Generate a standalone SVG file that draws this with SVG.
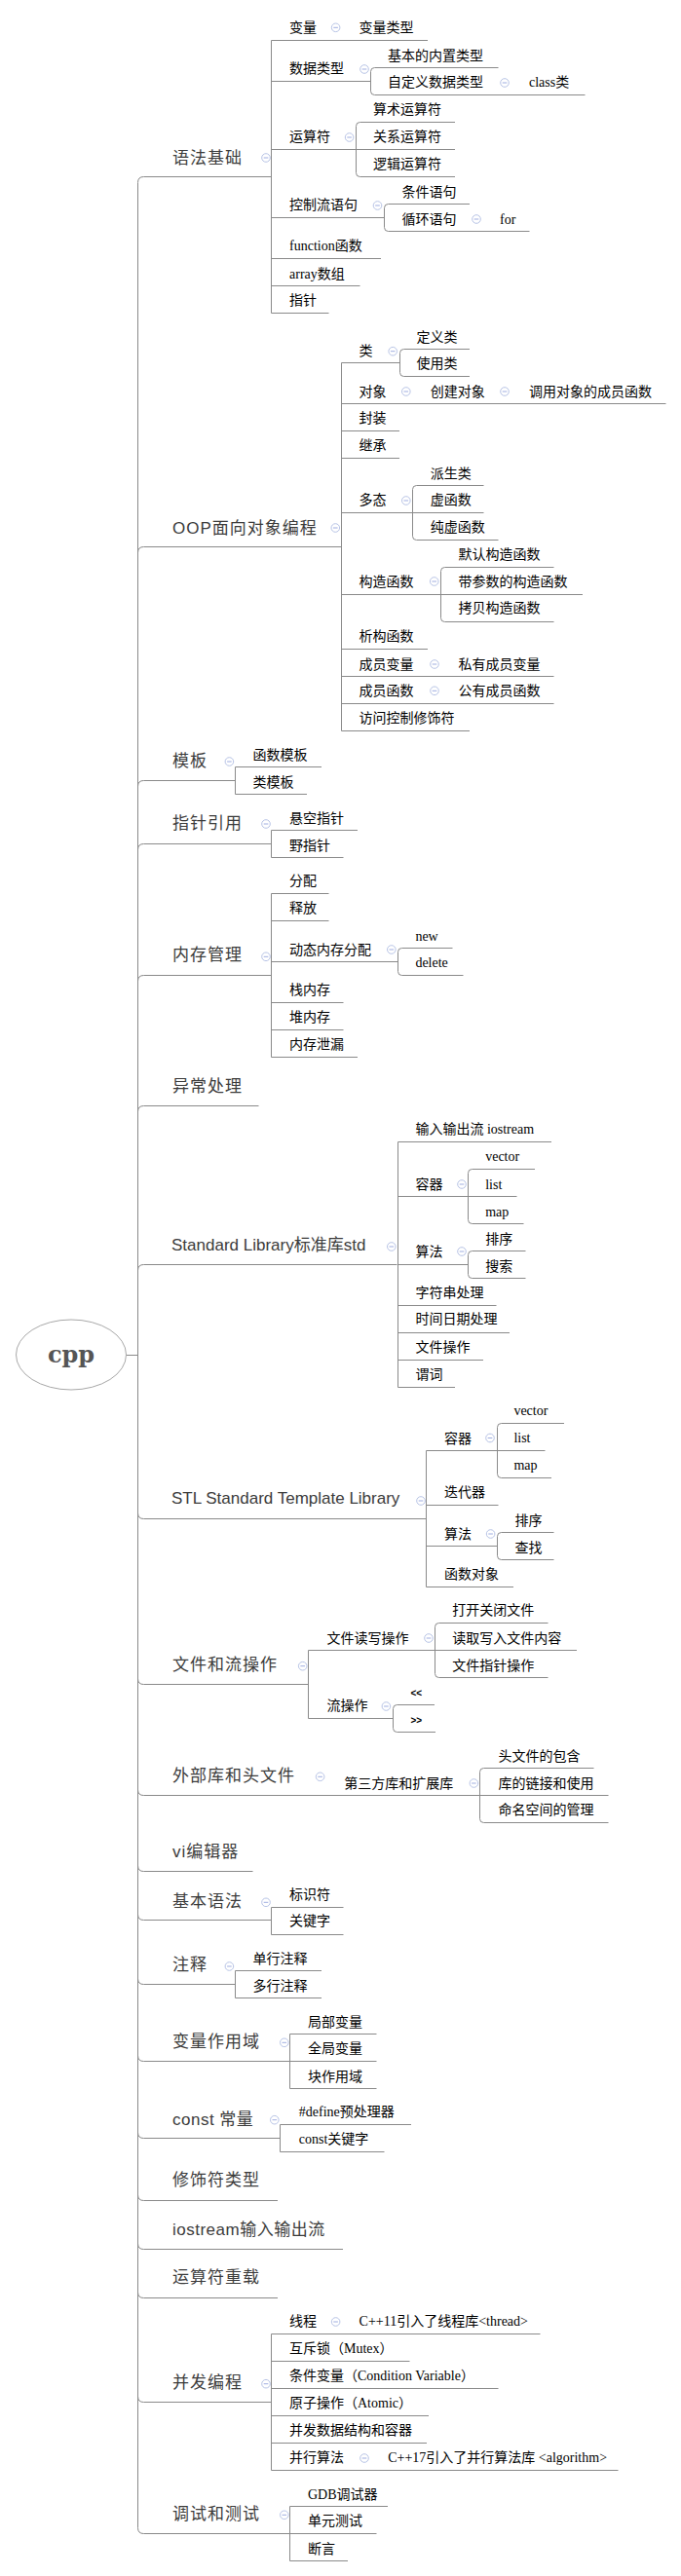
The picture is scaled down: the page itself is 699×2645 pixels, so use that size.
<svg xmlns="http://www.w3.org/2000/svg" xmlns:xlink="http://www.w3.org/1999/xlink" width="699" height="2645" viewBox="0 0 699 2645">
<style>
.t1{font-family:"Liberation Sans","Noto Sans CJK SC",sans-serif;font-size:17px;fill:#3b3b3b;letter-spacing:1px}
.lat0{letter-spacing:0}
.lat5{letter-spacing:0.5px}
.t2{font-family:"Liberation Serif","Noto Sans CJK SC",serif;font-size:14px;fill:#000}
.ts{font-family:"Liberation Sans",sans-serif;font-size:10px;font-weight:bold;fill:#000}
.root{font-family:"DejaVu Serif",serif;font-size:24px;font-weight:bold;fill:#555}
#connectors path{fill:none;stroke:#8a8a8a;stroke-width:1}
</style>
<defs>
<g id="tg"><circle r="4.3" fill="#fff" stroke="#b8c4e6" stroke-width="1"/><path d="M-2.3 0H2.3" stroke="#9fade0" stroke-width="1"/></g>
</defs>
<rect width="699" height="2645" fill="#fff"/>
<g id="connectors">
<path d="M129.5 1391.5H141.5"/>
<path d="M141.5 187.5V2595.5"/>
<path d="M141.5 187.5Q141.5 181.5 147.5 181.5H278.5"/>
<path d="M141.5 567.5Q141.5 561.5 147.5 561.5H350.5"/>
<path d="M141.5 807.5Q141.5 801.5 147.5 801.5H241.5"/>
<path d="M141.5 872.5Q141.5 866.5 147.5 866.5H278.5"/>
<path d="M141.5 1007.5Q141.5 1001.5 147.5 1001.5H278.5"/>
<path d="M141.5 1141.5Q141.5 1135.5 147.5 1135.5H265.5"/>
<path d="M141.5 1304.5Q141.5 1298.5 147.5 1298.5H407.5"/>
<path d="M141.5 1553.5Q141.5 1559.5 147.5 1559.5H437.5"/>
<path d="M141.5 1723.5Q141.5 1729.5 147.5 1729.5H316.5"/>
<path d="M141.5 1837.5Q141.5 1843.5 147.5 1843.5H624.5"/>
<path d="M141.5 1915.5Q141.5 1921.5 147.5 1921.5H259.5"/>
<path d="M141.5 1965.5Q141.5 1971.5 147.5 1971.5H278.5"/>
<path d="M141.5 2031.5Q141.5 2037.5 147.5 2037.5H241.5"/>
<path d="M141.5 2110.5Q141.5 2116.5 147.5 2116.5H297.5"/>
<path d="M141.5 2189.5Q141.5 2195.5 147.5 2195.5H287.5"/>
<path d="M141.5 2253.5Q141.5 2259.5 147.5 2259.5H285"/>
<path d="M141.5 2303.5Q141.5 2309.5 147.5 2309.5H352"/>
<path d="M141.5 2353.5Q141.5 2359.5 147.5 2359.5H285"/>
<path d="M141.5 2460.5Q141.5 2466.5 147.5 2466.5H278.5"/>
<path d="M141.5 2595.5Q141.5 2601.5 147.5 2601.5H297.5"/>
<!-- 语法基础 -->
<path d="M278.5 41.5V321.5M278.5 41.5H439M278.5 83.5H380.5M278.5 153.5H467M278.5 223.5H394.5M278.5 265.5H391M278.5 293.5H369.5M278.5 321.5H337.5"/>
<path d="M511.5 69.5H384.5Q380.5 69.5 380.5 73.5V93.5Q380.5 97.5 384.5 97.5H600.5"/>
<path d="M467 125.5H369.5Q365.5 125.5 365.5 129.5V177.5Q365.5 181.5 369.5 181.5H467"/>
<path d="M482 209.5H398.5Q394.5 209.5 394.5 213.5V233.5Q394.5 237.5 398.5 237.5H543.5"/>
<!-- OOP -->
<path d="M350.5 372.5V750.5M350.5 372.5H410.5M350.5 414.5H683.5M350.5 442.5H410M350.5 470.5H410M350.5 526.5H496.5M350.5 610.5H598M350.5 666.5H439M350.5 694.5H568.5M350.5 722.5H568.5M350.5 750.5H482"/>
<path d="M482 358.5H414.5Q410.5 358.5 410.5 362.5V382.5Q410.5 386.5 414.5 386.5H482"/>
<path d="M496.5 498.5H427.5Q423.5 498.5 423.5 502.5V550.5Q423.5 554.5 427.5 554.5H511.5"/>
<path d="M568.5 582.5H456.5Q452.5 582.5 452.5 586.5V634.5Q452.5 638.5 456.5 638.5H568.5"/>
<!-- 模板 / 指针引用 -->
<path d="M241.5 787.5V815.5M241.5 787.5H330M241.5 815.5H315"/>
<path d="M278.5 852.5V880.5M278.5 852.5H367M278.5 880.5H352.5"/>
<!-- 内存管理 -->
<path d="M278.5 917.5V1085.5M278.5 917.5H337.5M278.5 945.5H337.5M278.5 987.5H408.5M278.5 1029.5H352.5M278.5 1057.5H352.5M278.5 1085.5H367"/>
<path d="M464.5 973.5H412.5Q408.5 973.5 408.5 977.5V997.5Q408.5 1001.5 412.5 1001.5H475.5"/>
<!-- std -->
<path d="M408.5 1172.5V1424.5M408.5 1172.5H566M408.5 1228.5H530.5M408.5 1298.5H480.5M408.5 1340.5H509.5M408.5 1368.5H523M408.5 1396.5H496M408.5 1424.5H467"/>
<path d="M549 1200.5H484.5Q480.5 1200.5 480.5 1204.5V1252.5Q480.5 1256.5 484.5 1256.5H537.5"/>
<path d="M539.5 1284.5H484.5Q480.5 1284.5 480.5 1288.5V1308.5Q480.5 1312.5 484.5 1312.5H539.5"/>
<!-- STL -->
<path d="M437.5 1489.5V1629.5M437.5 1489.5H559.5M437.5 1545.5H511.5M437.5 1587.5H510.5M437.5 1629.5H527"/>
<path d="M579 1461.5H514.5Q510.5 1461.5 510.5 1465.5V1513.5Q510.5 1517.5 514.5 1517.5H566"/>
<path d="M568.5 1573.5H514.5Q510.5 1573.5 510.5 1577.5V1597.5Q510.5 1601.5 514.5 1601.5H568.5"/>
<!-- 文件和流操作 -->
<path d="M316.5 1694.5V1764.5M316.5 1694.5H592M316.5 1764.5H403.5"/>
<path d="M562.5 1666.5H450.5Q446.5 1666.5 446.5 1670.5V1718.5Q446.5 1722.5 450.5 1722.5H562.5"/>
<path d="M446 1750.5H407.5Q403.5 1750.5 403.5 1754.5V1774.5Q403.5 1778.5 407.5 1778.5H447"/>
<!-- 外部库 -->
<path d="M609.5 1815.5H496.5Q492.5 1815.5 492.5 1819.5V1867.5Q492.5 1871.5 496.5 1871.5H624.5"/>
<!-- 基本语法 / 注释 / 变量作用域 / const -->
<path d="M278.5 1958.5V1986.5M278.5 1958.5H352.5M278.5 1986.5H352.5"/>
<path d="M241.5 2023.5V2051.5M241.5 2023.5H330M241.5 2051.5H330"/>
<path d="M297.5 2088.5V2144.5M297.5 2088.5H386.5M297.5 2116.5H386.5M297.5 2144.5H386.5"/>
<path d="M287.5 2181.5V2209.5M287.5 2181.5H422M287.5 2209.5H394.5"/>
<!-- 并发编程 -->
<path d="M278.5 2396.5V2536.5M278.5 2396.5H554.5M278.5 2424.5H420.5M278.5 2452.5H511.5M278.5 2480.5H440M278.5 2508.5H438M278.5 2536.5H634.5"/>
<!-- 调试和测试 -->
<path d="M297.5 2573.5V2629.5M297.5 2573.5H398M297.5 2601.5H386.5M297.5 2629.5H357"/>
</g>

<g id="root">
<ellipse cx="73" cy="1391" rx="56.5" ry="36" fill="#fff" stroke="#a8a8a8" stroke-width="1"/>
<text class="root" x="73" y="1399" text-anchor="middle">cpp</text>
</g>

<g id="n1"><text class="t1" x="177" y="168">语法基础</text><use href="#tg" x="273" y="162"/></g>
<g id="n1-1"><text class="t2" x="297" y="33.3">变量</text><use href="#tg" x="344.6" y="28.3"/></g>
<g id="n1-1-1"><text class="t2" x="368.6" y="33.3">变量类型</text></g>
<g id="n1-2"><text class="t2" x="297" y="75">数据类型</text><use href="#tg" x="374" y="71"/></g>
<g id="n1-2-1"><text class="t2" x="398" y="61.7">基本的内置类型</text></g>
<g id="n1-2-2"><text class="t2" x="398" y="89.3">自定义数据类型</text><use href="#tg" x="518" y="85"/></g>
<g id="n1-2-2-1"><text class="t2" x="543" y="89.3">class类</text></g>
<g id="n1-3"><text class="t2" x="297" y="145">运算符</text><use href="#tg" x="358.6" y="141"/></g>
<g id="n1-3-1"><text class="t2" x="383" y="117.3">算术运算符</text></g>
<g id="n1-3-2"><text class="t2" x="383" y="145">关系运算符</text></g>
<g id="n1-3-3"><text class="t2" x="383" y="172.7">逻辑运算符</text></g>
<g id="n1-4"><text class="t2" x="297" y="215">控制流语句</text><use href="#tg" x="387.5" y="211"/></g>
<g id="n1-4-1"><text class="t2" x="412.5" y="201.7">条件语句</text></g>
<g id="n1-4-2"><text class="t2" x="412.5" y="230">循环语句</text><use href="#tg" x="489" y="225"/></g>
<g id="n1-4-2-1"><text class="t2" x="513" y="230">for</text></g>
<g id="n1-5"><text class="t2" x="297" y="257.3">function函数</text></g>
<g id="n1-6"><text class="t2" x="297" y="285.7">array数组</text></g>
<g id="n1-7"><text class="t2" x="297" y="313.3">指针</text></g>

<g id="n2"><text class="t1" x="177" y="548">OOP面向对象编程</text><use href="#tg" x="344.3" y="542"/></g>
<g id="n2-1"><text class="t2" x="368.6" y="365">类</text><use href="#tg" x="403.2" y="360.7"/></g>
<g id="n2-1-1"><text class="t2" x="427.5" y="351">定义类</text></g>
<g id="n2-1-2"><text class="t2" x="427.5" y="378.3">使用类</text></g>
<g id="n2-2"><text class="t2" x="368.6" y="406.7">对象</text><use href="#tg" x="416.8" y="402"/></g>
<g id="n2-2-1"><text class="t2" x="441.8" y="406.7">创建对象</text><use href="#tg" x="518" y="402"/></g>
<g id="n2-2-1-1"><text class="t2" x="543" y="406.7">调用对象的成员函数</text></g>
<g id="n2-3"><text class="t2" x="368.6" y="434.3">封装</text></g>
<g id="n2-4"><text class="t2" x="368.6" y="462.3">继承</text></g>
<g id="n2-5"><text class="t2" x="368.6" y="518.3">多态</text><use href="#tg" x="416.8" y="514"/></g>
<g id="n2-5-1"><text class="t2" x="441.8" y="490.7">派生类</text></g>
<g id="n2-5-2"><text class="t2" x="441.8" y="518.3">虚函数</text></g>
<g id="n2-5-3"><text class="t2" x="441.8" y="546">纯虚函数</text></g>
<g id="n2-6"><text class="t2" x="368.6" y="601.7">构造函数</text><use href="#tg" x="445.7" y="597"/></g>
<g id="n2-6-1"><text class="t2" x="470.4" y="574">默认构造函数</text></g>
<g id="n2-6-2"><text class="t2" x="470.4" y="601.7">带参数的构造函数</text></g>
<g id="n2-6-3"><text class="t2" x="470.4" y="629.3">拷贝构造函数</text></g>
<g id="n2-7"><text class="t2" x="368.6" y="657.7">析构函数</text></g>
<g id="n2-8"><text class="t2" x="368.6" y="686.7">成员变量</text><use href="#tg" x="446" y="682"/></g>
<g id="n2-8-1"><text class="t2" x="470.4" y="686.7">私有成员变量</text></g>
<g id="n2-9"><text class="t2" x="368.6" y="714.3">成员函数</text><use href="#tg" x="446" y="709.3"/></g>
<g id="n2-9-1"><text class="t2" x="470.4" y="714.3">公有成员函数</text></g>
<g id="n2-10"><text class="t2" x="368.6" y="742.3">访问控制修饰符</text></g>

<g id="n3"><text class="t1" x="177" y="787">模板</text><use href="#tg" x="235.4" y="782"/></g>
<g id="n3-1"><text class="t2" x="259.6" y="780">函数模板</text></g>
<g id="n3-2"><text class="t2" x="259.6" y="807.7">类模板</text></g>

<g id="n4"><text class="t1" x="177" y="851">指针引用</text><use href="#tg" x="273" y="846"/></g>
<g id="n4-1"><text class="t2" x="297" y="845">悬空指针</text></g>
<g id="n4-2"><text class="t2" x="297" y="873.3">野指针</text></g>

<g id="n5"><text class="t1" x="177" y="986">内存管理</text><use href="#tg" x="273" y="982.3"/></g>
<g id="n5-1"><text class="t2" x="297" y="909.3">分配</text></g>
<g id="n5-2"><text class="t2" x="297" y="937.3">释放</text></g>
<g id="n5-3"><text class="t2" x="297" y="980">动态内存分配</text><use href="#tg" x="401.8" y="975"/></g>
<g id="n5-3-1"><text class="t2" x="426.4" y="965.7">new</text></g>
<g id="n5-3-2"><text class="t2" x="426.4" y="993.3">delete</text></g>
<g id="n5-4"><text class="t2" x="297" y="1021">栈内存</text></g>
<g id="n5-5"><text class="t2" x="297" y="1049">堆内存</text></g>
<g id="n5-6"><text class="t2" x="297" y="1077.3">内存泄漏</text></g>

<g id="n6"><text class="t1" x="177" y="1121">异常处理</text></g>

<g id="n7"><text class="t1 lat0" x="176" y="1284">Standard Library标准库std</text><use href="#tg" x="401.8" y="1280"/></g>
<g id="n7-1"><text class="t2" x="426.4" y="1164.3">输入输出流 iostream</text></g>
<g id="n7-2"><text class="t2" x="426.4" y="1220.7">容器</text><use href="#tg" x="474" y="1216"/></g>
<g id="n7-2-1"><text class="t2" x="498.2" y="1192.3">vector</text></g>
<g id="n7-2-2"><text class="t2" x="498.2" y="1220.7">list</text></g>
<g id="n7-2-3"><text class="t2" x="498.2" y="1249">map</text></g>
<g id="n7-3"><text class="t2" x="426.4" y="1290">算法</text><use href="#tg" x="474" y="1285"/></g>
<g id="n7-3-1"><text class="t2" x="498.2" y="1276.7">排序</text></g>
<g id="n7-3-2"><text class="t2" x="498.2" y="1305">搜索</text></g>
<g id="n7-4"><text class="t2" x="426.4" y="1331.7">字符串处理</text></g>
<g id="n7-5"><text class="t2" x="426.4" y="1359.3">时间日期处理</text></g>
<g id="n7-6"><text class="t2" x="426.4" y="1388.3">文件操作</text></g>
<g id="n7-7"><text class="t2" x="426.4" y="1416">谓词</text></g>

<g id="n8"><text class="t1 lat0" x="176" y="1544">STL Standard Template Library</text><use href="#tg" x="432" y="1541"/></g>
<g id="n8-1"><text class="t2" x="456" y="1481.7">容器</text><use href="#tg" x="503" y="1476.5"/></g>
<g id="n8-1-1"><text class="t2" x="527.4" y="1453.3">vector</text></g>
<g id="n8-1-2"><text class="t2" x="527.4" y="1481">list</text></g>
<g id="n8-1-3"><text class="t2" x="527.4" y="1509.3">map</text></g>
<g id="n8-2"><text class="t2" x="456" y="1537.3">迭代器</text></g>
<g id="n8-3"><text class="t2" x="456" y="1580">算法</text><use href="#tg" x="503.6" y="1575"/></g>
<g id="n8-3-1"><text class="t2" x="528.6" y="1566">排序</text></g>
<g id="n8-3-2"><text class="t2" x="528.6" y="1594">查找</text></g>
<g id="n8-4"><text class="t2" x="456" y="1621">函数对象</text></g>

<g id="n9"><text class="t1" x="177" y="1715">文件和流操作</text><use href="#tg" x="310.7" y="1710.7"/></g>
<g id="n9-1"><text class="t2" x="335.4" y="1686.7">文件读写操作</text><use href="#tg" x="440" y="1682"/></g>
<g id="n9-1-1"><text class="t2" x="464.3" y="1658.3">打开关闭文件</text></g>
<g id="n9-1-2"><text class="t2" x="464.3" y="1686.7">读取写入文件内容</text></g>
<g id="n9-1-3"><text class="t2" x="464.3" y="1715">文件指针操作</text></g>
<g id="n9-2"><text class="t2" x="335.4" y="1756">流操作</text><use href="#tg" x="396.4" y="1752"/></g>
<g id="n9-2-1"><text class="ts" x="421.4" y="1742">&lt;&lt;</text></g>
<g id="n9-2-2"><text class="ts" x="421.4" y="1769.5">&gt;&gt;</text></g>

<g id="n10"><text class="t1" x="177" y="1829">外部库和头文件</text><use href="#tg" x="328.6" y="1824.3"/></g>
<g id="n10-1"><text class="t2" x="353.2" y="1835.7">第三方库和扩展库</text><use href="#tg" x="486.4" y="1831"/></g>
<g id="n10-1-1"><text class="t2" x="511.4" y="1807.7">头文件的包含</text></g>
<g id="n10-1-2"><text class="t2" x="511.4" y="1835.7">库的链接和使用</text></g>
<g id="n10-1-3"><text class="t2" x="511.4" y="1863.3">命名空间的管理</text></g>

<g id="n11"><text class="t1" x="177" y="1907">vi编辑器</text></g>

<g id="n12"><text class="t1" x="177" y="1958">基本语法</text><use href="#tg" x="273" y="1953.3"/></g>
<g id="n12-1"><text class="t2" x="297" y="1950">标识符</text></g>
<g id="n12-2"><text class="t2" x="297" y="1977.3">关键字</text></g>

<g id="n13"><text class="t1" x="177" y="2023">注释</text><use href="#tg" x="235.4" y="2019"/></g>
<g id="n13-1"><text class="t2" x="259.6" y="2016">单行注释</text></g>
<g id="n13-2"><text class="t2" x="259.6" y="2044">多行注释</text></g>

<g id="n14"><text class="t1" x="177" y="2102">变量作用域</text><use href="#tg" x="291.8" y="2097.3"/></g>
<g id="n14-1"><text class="t2" x="316" y="2080.7">局部变量</text></g>
<g id="n14-2"><text class="t2" x="316" y="2108.3">全局变量</text></g>
<g id="n14-3"><text class="t2" x="316" y="2136.7">块作用域</text></g>

<g id="n15"><text class="t1 lat5" x="177" y="2182">const 常量</text><use href="#tg" x="281.8" y="2176.7"/></g>
<g id="n15-1"><text class="t2" x="306.8" y="2173.3">#define预处理器</text></g>
<g id="n15-2"><text class="t2" x="306.8" y="2201">const关键字</text></g>

<g id="n16"><text class="t1" x="177" y="2244">修饰符类型</text></g>
<g id="n17"><text class="t1 lat5" x="177" y="2295">iostream输入输出流</text></g>
<g id="n18"><text class="t1" x="177" y="2344">运算符重载</text></g>

<g id="n19"><text class="t1" x="177" y="2452">并发编程</text><use href="#tg" x="273" y="2447.7"/></g>
<g id="n19-1"><text class="t2" x="297" y="2388.3">线程</text><use href="#tg" x="344.6" y="2384"/></g>
<g id="n19-1-1"><text class="t2" x="368.6" y="2388.3">C++11引入了线程库&lt;thread&gt;</text></g>
<g id="n19-2"><text class="t2" x="297" y="2416">互斥锁（Mutex）</text></g>
<g id="n19-3"><text class="t2" x="297" y="2444.3">条件变量（Condition Variable）</text></g>
<g id="n19-4"><text class="t2" x="297" y="2472.3">原子操作（Atomic）</text></g>
<g id="n19-5"><text class="t2" x="297" y="2500">并发数据结构和容器</text></g>
<g id="n19-6"><text class="t2" x="297" y="2528.3">并行算法</text><use href="#tg" x="374" y="2524"/></g>
<g id="n19-6-1"><text class="t2" x="398.2" y="2528.3">C++17引入了并行算法库 &lt;algorithm&gt;</text></g>

<g id="n20"><text class="t1" x="177" y="2587">调试和测试</text><use href="#tg" x="291.8" y="2582.3"/></g>
<g id="n20-1"><text class="t2" x="316" y="2565.7">GDB调试器</text></g>
<g id="n20-2"><text class="t2" x="316" y="2593.3">单元测试</text></g>
<g id="n20-3"><text class="t2" x="316" y="2621.7">断言</text></g>
</svg>
